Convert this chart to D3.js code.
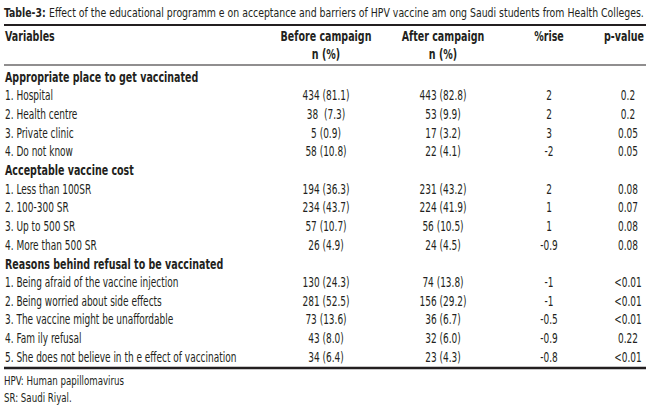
<!DOCTYPE html>
<html>
<head>
<meta charset="utf-8">
<script src="https://cdn.jsdelivr.net/npm/d3@7"></script>
<style>
  body { margin: 0; background: #fff; }
  svg text { font-family: "Liberation Sans Narrow", "DejaVu Sans Condensed", sans-serif; fill: #231f20; white-space: pre; }
</style>
</head>
<body>
<div id="chart"></div>
<script>
(function () {

  // Table content
  const title = "Effect of the educational programm e on acceptance and barriers of HPV vaccine am ong Saudi students from Health Colleges."
  const headers = ["Variables", "Before campaign", "After campaign", "%rise", "p-value"]
  const sections = [
    "Appropriate place to get vaccinated",
    "Acceptable vaccine cost",
    "Reasons behind refusal to be vaccinated"
  ]
  const labels = [
    ["1. Hospital", "2. Health centre", "3. Private clinic", "4. Do not know"],
    ["1. Less than 100SR", "2. 100-300 SR", "3. Up to 500 SR", "4. More than 500 SR"],
    ["1. Being afraid of the vaccine injection", "2. Being worried about side effects",
     "3. The vaccine might be unaffordable", "4. Fam ily refusal",
     "5. She does not believe in th e effect of vaccination"]
  ]
  const before = [
    ["434 (81.1)", "38  (7.3)", "5 (0.9)", "58 (10.8)"],
    ["194 (36.3)", "234 (43.7)", "57 (10.7)", "26 (4.9)"],
    ["130 (24.3)", "281 (52.5)", "73 (13.6)", "43 (8.0)", "34 (6.4)"]
  ]
  const after = [
    ["443 (82.8)", "53 (9.9)", "17 (3.2)", "22 (4.1)"],
    ["231 (43.2)", "224 (41.9)", "56 (10.5)", "24 (4.5)"],
    ["74 (13.8)", "156 (29.2)", "36 (6.7)", "32 (6.0)", "23 (4.3)"]
  ]
  const rise = [
    ["2", "2", "3", "-2"],
    ["2", "1", "1", "-0.9"],
    ["-1", "-1", "-0.5", "-0.9", "-0.8"]
  ]
  const pvalue = [
    ["0.2", "0.2", "0.05", "0.05"],
    ["0.08", "0.07", "0.08", "0.08"],
    ["<0.01", "<0.01", "<0.01", "0.22", "<0.01"]
  ]
  const footnotes = ["HPV: Human papillomavirus", "SR: Saudi Riyal."]

  const width = 650
  const height = 410
  const sx = 0.74   // squeeze text to look like a condensed face

  const svg = d3.select("#chart").append("svg")
      .attr("width", width)
      .attr("height", height)

  // flatten into rows
  const rows = []
  sections.forEach((s, i) => {
    rows.push({ type: "section", label: s })
    labels[i].forEach((l, j) => {
      rows.push({ type: "row", label: l, before: before[i][j], after: after[i][j], rise: rise[i][j], p: pvalue[i][j] })
    })
  })

  // row position scale
  const yScale = d3.scaleLinear()
    .domain([0, rows.length - 1])
    .range([77, 357])

  // column centres
  const xCol = d3.scaleOrdinal()
    .domain(["before", "after", "rise", "p"])
    .range([326, 443, 549, 628])

  const place = (x, y, s) => `translate(${x},${y}) scale(${s},1)`

  // title
  const t = svg.append("text")
    .attr("transform", place(4, 12, 0.8))
    .attr("dy", "0.35em")
    .style("font-size", "13px")
  t.append("tspan").style("font-weight", "bold").text("Table-3: ")
  t.append("tspan").text(title)

  // rules
  svg.append("line").attr("x1", 4).attr("x2", 646).attr("y1", 25).attr("y2", 25)
    .attr("stroke", "#231f20").attr("stroke-width", 2)
  svg.append("line").attr("x1", 4).attr("x2", 646).attr("y1", 65).attr("y2", 65)
    .attr("stroke", "#231f20").attr("stroke-width", 1.2)
  svg.append("line").attr("x1", 4).attr("x2", 646).attr("y1", 368).attr("y2", 368)
    .attr("stroke", "#231f20").attr("stroke-width", 2.5)

  // header
  const head = svg.append("g").style("font-weight", "bold").style("font-size", "14.5px")
  head.append("text").attr("transform", place(5, 36, 0.73)).attr("dy", "0.35em").text(headers[0])
  ;["before", "after", "rise", "p"].forEach((k, i) => {
    head.append("text")
      .attr("transform", place(xCol(k) - (k === "p" ? 4 : 0), 36, 0.73))
      .attr("dy", "0.35em")
      .attr("text-anchor", "middle")
      .text(headers[i + 1])
  })
  ;["before", "after"].forEach(k => {
    head.append("text")
      .attr("transform", place(xCol(k), 54, 0.73))
      .attr("dy", "0.35em")
      .attr("text-anchor", "middle")
      .text("n (%)")
  })

  // body
  const g = svg.selectAll("g.row")
    .data(rows)
    .join("g")
    .attr("class", "row")
    .attr("transform", (d, i) => `translate(0,${yScale(i)})`)
    .style("font-size", "13.5px")

  g.append("text")
    .attr("transform", d => place(5, 0, d.type === "section" ? 0.73 : sx))
    .attr("dy", "0.35em")
    .style("font-weight", d => d.type === "section" ? "bold" : "normal")
    .style("font-size", d => d.type === "section" ? "14.5px" : "13.5px")
    .text(d => d.label)

  ;["before", "after", "rise", "p"].forEach(k => {
    g.filter(d => d.type === "row").append("text")
      .attr("transform", place(xCol(k), 0, sx))
      .attr("dy", "0.35em")
      .attr("text-anchor", "middle")
      .text(d => d[k])
  })

  // footnotes
  svg.selectAll("text.foot")
    .data(footnotes)
    .join("text")
    .attr("class", "foot")
    .attr("transform", (d, i) => place(4, 381 + i * 17, 0.77))
    .attr("dy", "0.35em")
    .style("font-size", "12.5px")
    .text(d => d)
})();
</script>
</body>
</html>
